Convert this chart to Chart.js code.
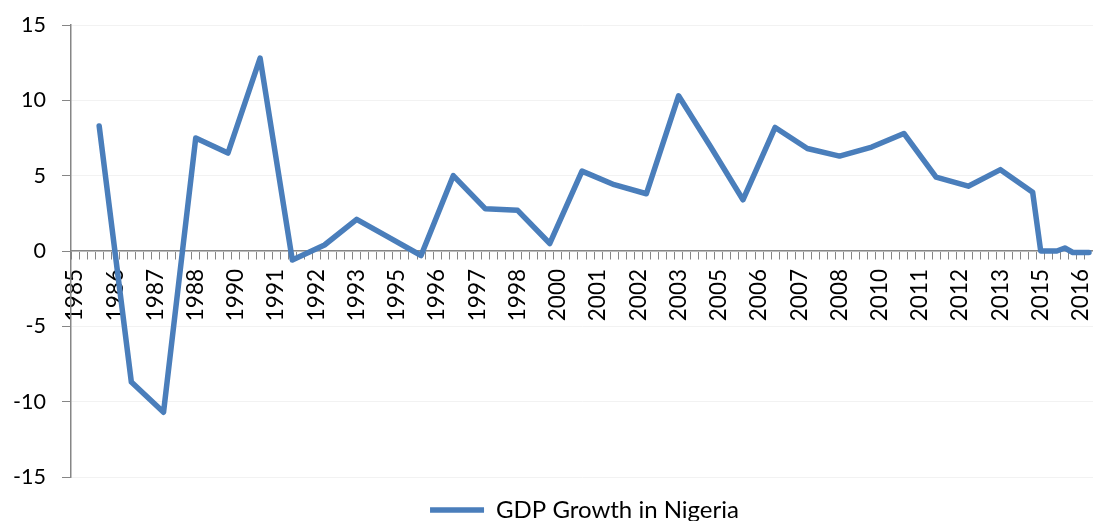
<!DOCTYPE html>
<html>
<head>
<meta charset="utf-8">
<title>GDP Growth in Nigeria</title>
<script src="https://cdn.jsdelivr.net/npm/chart.js@4.4.1/dist/chart.umd.min.js"></script>
<style>
  html, body { margin: 0; padding: 0; background: #fff; }
  #wrap { width: 1093px; height: 521px; position: relative; }
</style>
</head>
<body>
<div id="wrap"><canvas id="gdpChart"></canvas></div>
<script>
// annual real GDP growth (%), plotted at the last quarter of each year
var years = [1985, 1986, 1987, 1988, 1989, 1990, 1991, 1992, 1993, 1994,
             1995, 1996, 1997, 1998, 1999, 2000, 2001, 2002, 2003, 2004,
             2005, 2006, 2007, 2008, 2009, 2010, 2011, 2012, 2013, 2014];
var growth = [8.3, -8.7, -10.7, 7.5, 6.5, 12.8, -0.6, 0.4, 2.1, 0.9,
              -0.3, 5.0, 2.8, 2.7, 0.5, 5.3, 4.4, 3.8, 10.3, 6.9,
              3.4, 8.2, 6.8, 6.3, 6.9, 7.8, 4.9, 4.3, 5.4, 3.9];

// quarterly values after 2014 (2015 Q1 .. 2016 Q3)
var lateQuarters = [0, 0, 0, 0.2, -0.1, -0.1, -0.1];

var firstYear = 1985;
var quarterCount = 127;
var labelEvery = 5;

var yTicks = [-15, -10, -5, 0, 5, 10, 15];

// one category per quarter, labelled with its year
var categories = [];
var values = [];
for (var q = 0; q < quarterCount; q++) {
    categories.push(String(firstYear + Math.floor(q / 4)));
    values.push(null);
}
years.forEach(function(y, i) {
    values[(y - firstYear) * 4 + 3] = growth[i];
});
lateQuarters.forEach(function(v, i) {
    values[years.length * 4 + i] = v;
});

var font = "Lato, 'Open Sans', sans-serif";
var axisGrey = '#868686';

// nudge the legend a bit right of centre
var legendShift = {
    id: 'legendShift',
    afterLayout: function(chart) {
        chart.legend.left += 38;
        chart.legend.right += 38;
    }
};

var ctx = document.getElementById('gdpChart').getContext('2d');
var gdpChart = new Chart(ctx, {
    type: 'line',
    data: {
        labels: categories,
        datasets: [{
            label: 'GDP Growth in Nigeria',
            data: values,
            borderColor: '#4a7ebb',
            backgroundColor: '#4a7ebb',
            borderWidth: 5.5,
            borderCapStyle: 'round',
            borderJoinStyle: 'round',
            pointRadius: 0,
            pointHoverRadius: 0,
            tension: 0,
            spanGaps: true,
            clip: false
        }]
    },
    plugins: [legendShift],
    options: {
        responsive: true,
        maintainAspectRatio: false,
        animation: false,
        layout: {
            padding: { top: 25, right: 0, left: 0, bottom: -11 }
        },
        plugins: {
            legend: {
                position: 'bottom',
                labels: {
                    usePointStyle: true,
                    pointStyle: 'line',
                    pointStyleWidth: 54,
                    color: '#000',
                    padding: 21,
                    font: { family: font, size: 24 }
                }
            },
            tooltip: { enabled: false }
        },
        scales: {
            x: {
                position: { y: 0 },
                offset: true,
                afterFit: function(scale) {
                    scale.paddingLeft = 0;
                    scale.paddingRight = 0;
                    scale.paddingTop = 0;
                    scale.paddingBottom = 0;
                },
                grid: {
                    display: true,
                    drawOnChartArea: false,
                    offset: true,
                    color: axisGrey,
                    tickLength: 8
                },
                border: { color: axisGrey, width: 1.5 },
                ticks: {
                    autoSkip: false,
                    minRotation: 90,
                    maxRotation: 90,
                    padding: 10,
                    color: '#000',
                    font: { family: font, size: 22.5 },
                    callback: function(value, index) {
                        return index % labelEvery === 0 ? this.getLabelForValue(value) : '';
                    }
                }
            },
            y: {
                min: yTicks[0],
                max: yTicks[yTicks.length - 1],
                afterBuildTicks: function(scale) {
                    scale.ticks = yTicks.map(function(v) { return { value: v }; });
                },
                afterFit: function(scale) {
                    scale.width = 71;
                    scale.paddingTop = 0;
                    scale.paddingBottom = 0;
                },
                grid: {
                    color: '#f2f2f2',
                    tickColor: axisGrey,
                    tickLength: 9
                },
                border: { color: axisGrey, width: 1.5 },
                ticks: {
                    padding: 16,
                    color: '#000',
                    font: { family: font, size: 21.5 }
                }
            }
        }
    }
});
</script>
</body>
</html>
